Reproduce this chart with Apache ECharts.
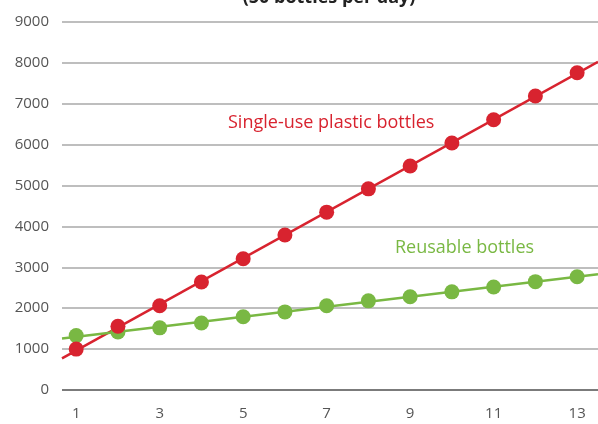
<!DOCTYPE html>
<html>
<head>
<meta charset="utf-8">
<script src="https://cdn.jsdelivr.net/npm/echarts@6/dist/echarts.min.js"></script>
<style>
  html, body { margin: 0; padding: 0; background: #fff; }
  #chart { width: 598px; height: 424px; }
</style>
</head>
<body>
<div id="chart"></div>
<script>
// days on the x axis
const days = [1, 2, 3, 4, 5, 6, 7, 8, 9, 10, 11, 12, 13];
// cumulative bottles
const singleUse = [1000, 1560, 2060, 2640, 3210, 3790, 4350, 4920, 5480, 6040, 6610, 7190, 7760];
const reusable = [1330, 1420, 1520, 1640, 1790, 1910, 2060, 2180, 2280, 2400, 2520, 2650, 2770];
const xTickLabels = [1, 3, 5, 7, 9, 11, 13];
const yTickLabels = [0, 1000, 2000, 3000, 4000, 5000, 6000, 7000, 8000, 9000];

const RED = '#d8232f';
const GREEN = '#79b843';
const X_MIN = 0.66;
const X_MAX = 13.5;

// least squares trend line across the whole axis
function trend(xs, ys) {
  const n = xs.length;
  const mx = xs.reduce((a, b) => a + b, 0) / n;
  const my = ys.reduce((a, b) => a + b, 0) / n;
  let num = 0, den = 0;
  xs.forEach((x, i) => { num += (x - mx) * (ys[i] - my); den += (x - mx) * (x - mx); });
  const k = num / den;
  const b = my - k * mx;
  return [[X_MIN, k * X_MIN + b], [X_MAX, k * X_MAX + b]];
}

const chart = echarts.init(document.getElementById('chart'));

const option = {
  animation: false,
  grid: { left: 62, right: 0, top: 22, bottom: 34 },
  xAxis: {
    type: 'value',
    min: X_MIN,
    max: X_MAX,
    axisLine: { show: false },
    axisTick: { show: false },
    splitLine: { show: false },
    axisLabel: {
      customValues: xTickLabels,
      margin: 16,
      color: '#555',
      fontSize: 15,
      fontFamily: 'Open Sans'
    }
  },
  yAxis: {
    type: 'value',
    min: yTickLabels[0],
    max: yTickLabels[yTickLabels.length - 1],
    interval: 1000,
    axisLine: { show: false },
    axisTick: { show: false },
    axisLabel: {
      margin: 13,
      color: '#555',
      fontSize: 15,
      fontFamily: 'Open Sans',
      formatter: (v) => String(v)
    },
    splitLine: {
      lineStyle: { color: '#a8a8a8', width: 1.5 }
    }
  },
  series: [
    {
      type: 'line',
      data: trend(days, singleUse),
      symbol: 'none',
      lineStyle: { color: RED, width: 2.5 },
      z: 2
    },
    {
      type: 'line',
      data: trend(days, reusable),
      symbol: 'none',
      lineStyle: { color: GREEN, width: 2.5 },
      z: 2
    },
    {
      type: 'scatter',
      data: days.map((d, i) => [d, reusable[i]]),
      symbolSize: 15,
      itemStyle: { color: GREEN, opacity: 1 },
      z: 3
    },
    {
      type: 'scatter',
      data: days.map((d, i) => [d, singleUse[i]]),
      symbolSize: 15,
      itemStyle: { color: RED, opacity: 1 },
      z: 4
    },
    {
      // darker baseline at zero
      type: 'line',
      data: [],
      markLine: {
        silent: true,
        symbol: 'none',
        label: { show: false },
        lineStyle: { color: '#666', width: 1.5, type: 'solid' },
        data: [{ yAxis: 0 }]
      }
    }
  ],
  graphic: [
    {
      type: 'text',
      x: 329,
      y: -11,
      style: {
        text: '(50 bottles per day)',
        font: 'bold 18px "Open Sans"',
        fill: '#222',
        align: 'center'
      }
    },
    {
      type: 'text',
      x: 228,
      y: 114,
      style: {
        text: 'Single-use plastic bottles',
        font: '18px "Open Sans"',
        fill: RED
      }
    },
    {
      type: 'text',
      x: 395,
      y: 239,
      style: {
        text: 'Reusable bottles',
        font: '18px "Open Sans"',
        fill: GREEN
      }
    }
  ]
};

chart.setOption(option);
</script>
</body>
</html>
